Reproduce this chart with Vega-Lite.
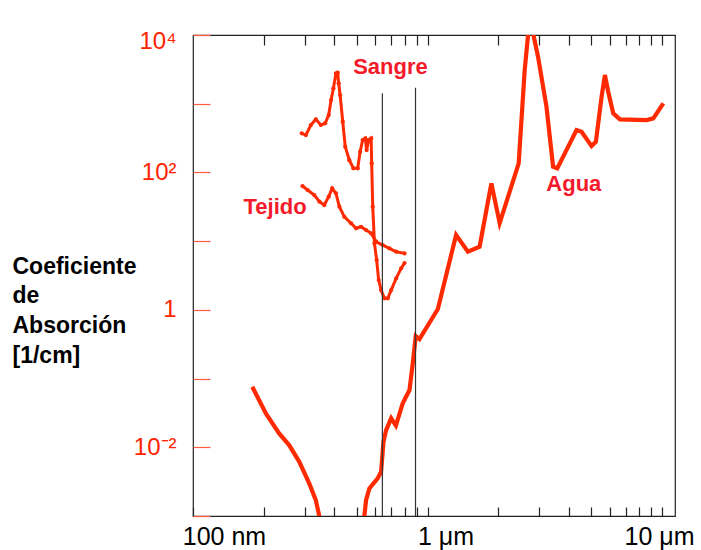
{
  "$schema": "https://vega.github.io/schema/vega-lite/v6.json",
  "width": 482,
  "height": 481,
  "autosize": {"type": "none"},
  "padding": {"left": 193, "top": 35, "right": 26, "bottom": 34},
  "background": "#ffffff",
  "config": {
    "view": {"stroke": "#222222", "strokeWidth": 1.2},
    "font": "Liberation Sans"
  },
  "datasets": {
    "water": [
      {"x": 179, "y": 0.076}, {"x": 204.5, "y": 0.0311}, {"x": 233, "y": 0.0159}, {"x": 257, "y": 0.01076},
      {"x": 284, "y": 0.00615}, {"x": 313, "y": 0.00298}, {"x": 334, "y": 0.0017}, {"x": 345.5, "y": 0.001},
      {"x": 363, "y": 0.00045}, {"x": 433, "y": 0.00006}, {"x": 522, "y": 0.00045}, {"x": 538, "y": 0.001},
      {"x": 547, "y": 0.0017}, {"x": 565, "y": 0.00252}, {"x": 613, "y": 0.00352}, {"x": 634, "y": 0.0044},
      {"x": 649, "y": 0.012}, {"x": 666, "y": 0.0178}, {"x": 700, "y": 0.0264}, {"x": 733, "y": 0.0207},
      {"x": 784, "y": 0.0436}, {"x": 838, "y": 0.068}, {"x": 865, "y": 0.166}, {"x": 891, "y": 0.416},
      {"x": 924, "y": 0.376}, {"x": 1107, "y": 1.03}, {"x": 1324, "y": 12.3}, {"x": 1487, "y": 7.01},
      {"x": 1668, "y": 8.29}, {"x": 1872, "y": 69.4}, {"x": 2031, "y": 18.3}, {"x": 2448, "y": 135.7},
      {"x": 2597, "y": 3096}, {"x": 2715, "y": 15000}, {"x": 2818, "y": 10700}, {"x": 2960, "y": 4832},
      {"x": 3216, "y": 904}, {"x": 3432, "y": 121}, {"x": 3576, "y": 114.8}, {"x": 3850, "y": 189.7},
      {"x": 4320, "y": 414}, {"x": 4539, "y": 391}, {"x": 5007, "y": 242}, {"x": 5224, "y": 280},
      {"x": 5525, "y": 1265}, {"x": 5707, "y": 2616}, {"x": 5896, "y": 1495}, {"x": 6193, "y": 725},
      {"x": 6615, "y": 593}, {"x": 8600, "y": 579}, {"x": 9180, "y": 613}, {"x": 10130, "y": 1013}
    ],
    "blood": [
      {"x": 291, "y": 371}, {"x": 303, "y": 350}, {"x": 318, "y": 490}, {"x": 334, "y": 593},
      {"x": 351, "y": 490}, {"x": 366, "y": 519}, {"x": 379, "y": 685}, {"x": 388, "y": 1132},
      {"x": 397, "y": 1675}, {"x": 407, "y": 2770}, {"x": 414, "y": 2825}, {"x": 418, "y": 1982},
      {"x": 424, "y": 1339}, {"x": 435, "y": 547}, {"x": 446, "y": 237}, {"x": 464, "y": 151},
      {"x": 483, "y": 115}, {"x": 504, "y": 115}, {"x": 516, "y": 200}, {"x": 529, "y": 296},
      {"x": 543, "y": 314}, {"x": 550, "y": 212}, {"x": 561, "y": 296}, {"x": 575, "y": 314},
      {"x": 578, "y": 136}, {"x": 584, "y": 31.7}, {"x": 594, "y": 9.29}, {"x": 607, "y": 5.31},
      {"x": 619, "y": 2.72}, {"x": 634, "y": 1.94}, {"x": 655, "y": 1.47}, {"x": 677, "y": 1.47},
      {"x": 700, "y": 1.94}, {"x": 735, "y": 2.87}, {"x": 772, "y": 4.02}, {"x": 798, "y": 4.8}
    ],
    "tissue": [
      {"x": 293, "y": 63.4}, {"x": 308, "y": 55.5}, {"x": 329, "y": 46.9}, {"x": 346, "y": 37.5},
      {"x": 363, "y": 33.5}, {"x": 379, "y": 44.3}, {"x": 392, "y": 58.7}, {"x": 407, "y": 49.6},
      {"x": 421, "y": 31.7}, {"x": 442, "y": 22.6}, {"x": 472, "y": 18.2}, {"x": 496, "y": 15.4},
      {"x": 521, "y": 16.2}, {"x": 547, "y": 14.5}, {"x": 575, "y": 13.0}, {"x": 604, "y": 9.8},
      {"x": 644, "y": 8.77}, {"x": 688, "y": 7.85}, {"x": 735, "y": 7.01}, {"x": 798, "y": 6.64}
    ],
    "rules": [
      {"x": 642, "y": 0.001, "y2": 1417},
      {"x": 889, "y": 0.001, "y2": 1709}
    ],
    "labels": [
      {"x": 695, "y": 2706, "text": "Sangre"},
      {"x": 224, "y": 24.8, "text": "Tejido"},
      {"x": 4207, "y": 53.6, "text": "Agua"}
    ]
  },
  "resolve": {"scale": {"x": "independent"}, "axis": {"x": "independent", "y": "independent"}},
  "layer": [
    {
      "data": {"name": "water"},
      "mark": {"type": "line", "color": "#ff2a00", "strokeWidth": 4.2, "clip": true},
      "encoding": {
        "x": {
          "field": "x", "type": "quantitative",
          "scale": {"type": "log", "domain": [100, 11360], "nice": false},
          "axis": {
            "orient": "bottom", "offset": -9,
            "values": [100, 200, 300, 400, 500, 600, 700, 800, 900, 1000, 2000, 3000, 4000, 5000, 6000, 7000, 8000, 9000, 10000],
            "labelExpr": "datum.value == 100 ? '100 nm' : datum.value == 1000 ? '1 μm' : datum.value == 10000 ? '10 μm' : ''",
            "ticks": true, "tickSize": 9, "tickColor": "#222222", "tickWidth": 1.2, "tickOpacity": 1,
            "domain": false, "grid": false, "title": null,
            "labelFontSize": 25, "labelColor": "#000000", "labelBaseline": "alphabetic",
            "labelPadding": 28, "labelAlign": "center", "labelFlush": false, "labelOverlap": false,
            "labelOffset": {"condition": [{"test": "datum.value == 100", "value": 31}, {"test": "datum.value == 1000", "value": 18}], "value": -3}
          }
        },
        "y": {
          "field": "y", "type": "quantitative",
          "scale": {"type": "log", "domain": [0.001, 10000], "nice": false},
          "axis": {
            "orient": "left", "values": [0.01, 1, 100, 10000],
            "labelExpr": "datum.value == 1 ? '1' : datum.value == 100 ? '10²' : datum.value == 10000 ? '10⁴' : '10⁻²'",
            "ticks": false, "domain": false, "grid": false,
            "labelAlign": "right", "labelBaseline": "middle", "labelPadding": 17,
            "labelFontSize": 24, "labelColor": "#ff2200", "labelFlush": false, "labelOverlap": false,
            "labelOffset": {"condition": {"test": "datum.value == 10000", "value": 6}, "value": 0},
            "title": ["Coeficiente", "de", "Absorción", "[1/cm]"],
            "titleAngle": 0, "titleAlign": "left", "titleBaseline": "alphabetic",
            "titleX": -181, "titleY": 238, "titleFontSize": 23, "titleFontWeight": "bold",
            "titleColor": "#000000", "titleLineHeight": 29.7
          }
        }
      }
    },
    {
      "data": {"name": "blood"},
      "mark": {"type": "line", "color": "#ff2a00", "strokeWidth": 3, "clip": true,
               "point": {"filled": true, "size": 18, "color": "#ff2a00"}},
      "encoding": {
        "x": {
          "field": "x", "type": "quantitative",
          "scale": {"type": "log", "domain": [100, 11360], "nice": false},
          "axis": {
            "orient": "top", "offset": -10,
            "values": [200, 300, 400, 500, 600, 700, 800, 900, 1000, 2000, 3000, 4000, 5000, 6000, 7000, 8000, 9000, 10000],
            "ticks": true, "tickSize": 10, "tickColor": "#222222", "tickWidth": 1.2, "tickOpacity": 1,
            "labels": false, "domain": false, "grid": false, "title": null
          }
        },
        "y": {
          "field": "y", "type": "quantitative",
          "axis": {
            "orient": "left", "values": [0.001, 0.01, 0.1, 1, 10, 100, 1000, 10000],
            "ticks": true, "tickSize": -17, "tickColor": "#ff5a3c", "tickWidth": 1.2, "tickOpacity": 1,
            "labels": false, "domain": false, "grid": false, "title": null
          }
        }
      }
    },
    {
      "data": {"name": "tissue"},
      "mark": {"type": "line", "color": "#ff2a00", "strokeWidth": 3, "clip": true,
               "point": {"filled": true, "size": 18, "color": "#ff2a00"}},
      "encoding": {
        "x": {
          "field": "x", "type": "quantitative",
          "scale": {"type": "log", "domain": [100, 11360], "nice": false},
          "axis": null
        },
        "y": {"field": "y", "type": "quantitative", "axis": null}
      }
    },
    {
      "data": {"name": "rules"},
      "mark": {"type": "rule", "color": "#333333", "strokeWidth": 1.2},
      "encoding": {
        "x": {
          "field": "x", "type": "quantitative",
          "scale": {"type": "log", "domain": [100, 11360], "nice": false},
          "axis": null
        },
        "y": {"field": "y", "type": "quantitative", "axis": null},
        "y2": {"field": "y2"}
      }
    },
    {
      "data": {"name": "labels"},
      "mark": {"type": "text", "color": "#f51a2a", "fontSize": 22, "fontWeight": "bold",
               "align": "center", "baseline": "alphabetic"},
      "encoding": {
        "x": {
          "field": "x", "type": "quantitative",
          "scale": {"type": "log", "domain": [100, 11360], "nice": false},
          "axis": null
        },
        "y": {"field": "y", "type": "quantitative", "axis": null},
        "text": {"field": "text"}
      }
    }
  ]
}
